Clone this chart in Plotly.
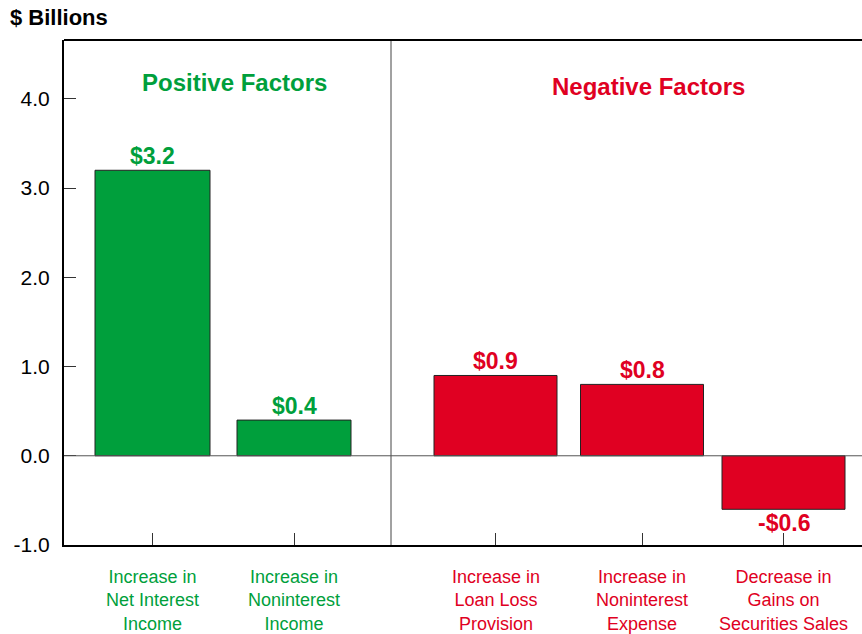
import plotly.graph_objects as go

# ---- data ----
categories = [
    "Increase in<br>Net Interest<br>Income",
    "Increase in<br>Noninterest<br>Income",
    "Increase in<br>Loan Loss<br>Provision",
    "Increase in<br>Noninterest<br>Expense",
    "Decrease in<br>Gains on<br>Securities Sales",
]
values = [3.2, 0.4, 0.9, 0.8, -0.6]
value_labels = ["$3.2", "$0.4", "$0.9", "$0.8", "-$0.6"]
groups = ["Positive", "Positive", "Negative", "Negative", "Negative"]
group_titles = {"Positive": "Positive Factors", "Negative": "Negative Factors"}
y_ticks = [-1.0, 0.0, 1.0, 2.0, 3.0, 4.0]
y_tick_labels = ["-1.0", "0.0", "1.0", "2.0", "3.0", "4.0"]

# ---- layout constants (slot positions / widths on a numeric x axis) ----
slot_x = [0.885, 2.30, 4.315, 5.78, 7.195]
slot_w = [1.15, 1.14, 1.23, 1.23, 1.23]
divider_x = 3.27
title_x = {"Positive": 1.70, "Negative": 5.845}
title_y = {"Positive": 4.18, "Negative": 4.14}

GREEN = "#009F3C"
RED = "#E00022"
colors = [GREEN if g == "Positive" else RED for g in groups]
FONT = "Liberation Sans, Arial, sans-serif"

W, H = 862, 634
ML, MT = 64, 40
PLOT_H = 505
MB = H - MT - PLOT_H
PLOT_W = W - ML

fig = go.Figure()
fig.add_trace(go.Bar(
    x=slot_x, y=values, width=slot_w,
    marker=dict(color=colors, line=dict(color="#222222", width=1)),
    hoverinfo="skip", showlegend=False,
))

ann = []
for x, v, lab, c in zip(slot_x, values, value_labels, colors):
    ann.append(dict(
        x=x, y=v, xref="x", yref="y", text=f"<b>{lab}</b>", showarrow=False,
        font=dict(family=FONT, size=23, color=c),
        yanchor="bottom" if v >= 0 else "top", yshift=-1 if v >= 0 else 1,
    ))
for x, cat, c in zip(slot_x, categories, colors):
    ann.append(dict(
        x=x, y=-20 / PLOT_H, xref="x", yref="paper", text=cat, showarrow=False,
        font=dict(family=FONT, size=18, color=c), yanchor="top", align="center",
    ))
for g, t in group_titles.items():
    ann.append(dict(
        x=title_x[g], y=title_y[g], xref="x", yref="y", text=f"<b>{t}</b>",
        showarrow=False, font=dict(family=FONT, size=24, color=GREEN if g == "Positive" else RED),
    ))
ann.append(dict(
    x=(8 - 64) / PLOT_W, y=1 + 22 / PLOT_H, xref="paper", yref="paper",
    text="<b>$ Billions</b>", showarrow=False, xanchor="left", yanchor="middle",
    font=dict(family=FONT, size=22, color="black"),
))

shapes = [
    dict(type="line", xref="x", yref="paper", x0=divider_x, x1=divider_x, y0=0, y1=1,
         line=dict(color="#444444", width=1)),
    dict(type="line", xref="paper", yref="y", x0=0, x1=1, y0=0, y1=0,
         line=dict(color="#555555", width=1)),
    dict(type="line", xref="paper", yref="paper", x0=0, x1=1, y0=1, y1=1,
         line=dict(color="black", width=2)),
]

fig.update_layout(
    width=W, height=H,
    margin=dict(l=ML, r=0, t=MT, b=MB, pad=0),
    plot_bgcolor="white", paper_bgcolor="white",
    annotations=ann, shapes=shapes,
    xaxis=dict(
        range=[0, 7.98], tickvals=slot_x, ticktext=[""] * len(slot_x),
        ticks="inside", ticklen=12, tickwidth=1, tickcolor="#333333",
        showline=True, linecolor="black", linewidth=2, showgrid=False, zeroline=False,
        fixedrange=True,
    ),
    yaxis=dict(
        range=[-1.0, 4.66], tickvals=y_ticks, ticktext=y_tick_labels,
        ticks="inside", ticklen=12, tickwidth=1, tickcolor="#333333",
        tickfont=dict(family=FONT, size=21, color="black"),
        ticklabelstandoff=8,
        showline=True, linecolor="black", linewidth=2, showgrid=False, zeroline=False,
        fixedrange=True,
    ),
    font=dict(family=FONT),
)

fig.write_html(
    "out.html",
    config={"displayModeBar": False, "staticPlot": True},
    post_script="document.body.style.margin='0';document.body.style.overflow='hidden';",
)
